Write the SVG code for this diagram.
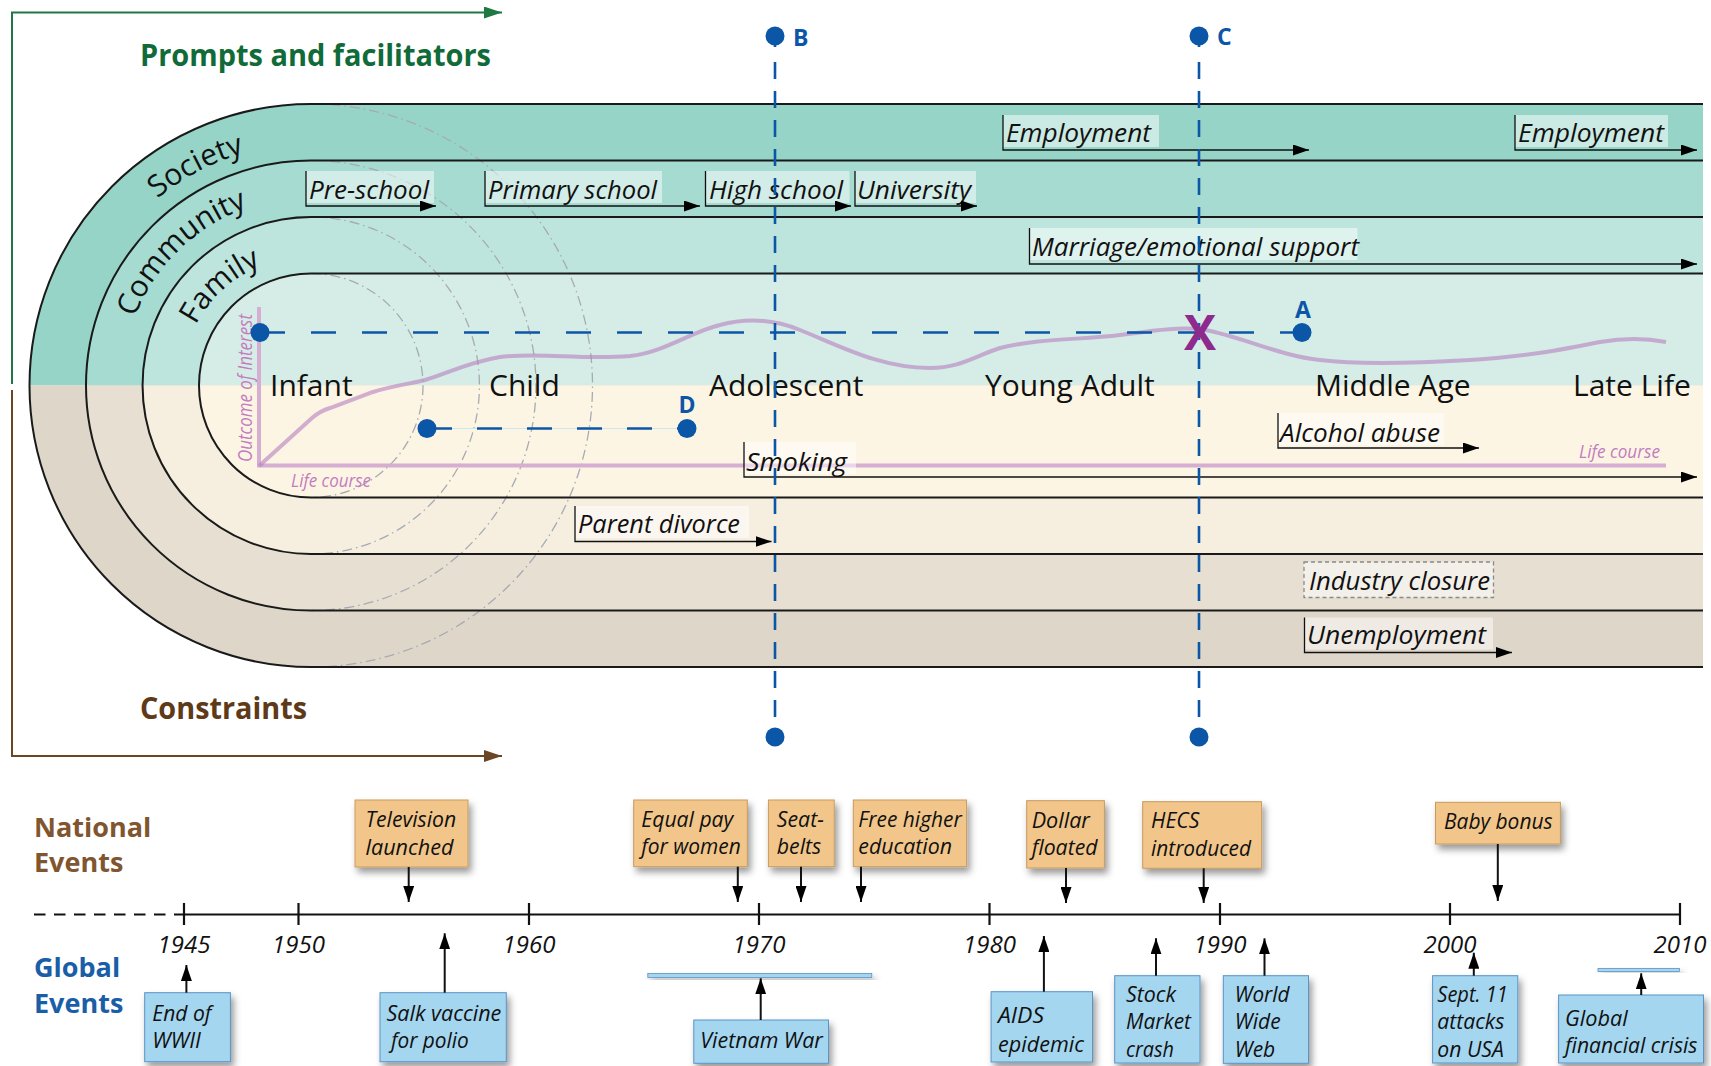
<svg xmlns="http://www.w3.org/2000/svg" width="1711" height="1066" viewBox="0 0 1711 1066">
<defs>
<style>
text{font-family:"Open Sans","Liberation Sans",sans-serif;}
.lbl{font-style:italic;font-size:26px;fill:#111;}
.stage{font-size:30px;fill:#111;}
.band{font-size:30px;fill:#111;}
.ev{font-style:italic;font-size:22px;fill:#111;}
.yr{font-style:italic;font-size:24px;fill:#111;text-anchor:middle;}
.let{font-weight:bold;font-size:23px;fill:#0b56a7;}
.bg{fill:#fff;opacity:.5;}
.br{fill:none;stroke:#111;stroke-width:1.3;marker-end:url(#ah);}
.ring{fill:none;stroke:#1a1a1a;stroke-width:2;}
.ghost{fill:none;stroke:#a6abb3;stroke-width:1.3;stroke-dasharray:10 4 1.5 4;}
.vdash{fill:none;stroke:#0b56a7;stroke-width:2.6;stroke-dasharray:17 12;}
.hdash{fill:none;stroke:#0b56a7;stroke-width:2.6;stroke-dasharray:25 26;}
.dot{fill:#0b56a7;}
.nat{fill:#f2c68a;stroke:#c99a5c;stroke-width:1;filter:url(#sh);}
.glo{fill:#a4d6f0;stroke:#5b93c6;stroke-width:1;filter:url(#sh);}
.tl{fill:none;stroke:#111;stroke-width:2;marker-end:url(#ah);}
.axis{stroke:#111;stroke-width:2.2;fill:none;}
.hd{font-weight:bold;font-size:27px;}
</style>
<marker id="ah" markerUnits="userSpaceOnUse" markerWidth="16" markerHeight="11" refX="16" refY="5.5" orient="auto"><path d="M0,0 L16,5.5 L0,11 Z" fill="#000"/></marker>
<marker id="ahg" markerUnits="userSpaceOnUse" markerWidth="18" markerHeight="12" refX="18" refY="6" orient="auto"><path d="M0,0 L18,6 L0,12 Z" fill="#1d7842"/></marker>
<marker id="ahb" markerUnits="userSpaceOnUse" markerWidth="18" markerHeight="12" refX="18" refY="6" orient="auto"><path d="M0,0 L18,6 L0,12 Z" fill="#6b4524"/></marker>
<filter id="sh" x="-20%" y="-20%" width="150%" height="160%"><feDropShadow dx="3" dy="5" stdDeviation="3.5" flood-color="#000" flood-opacity="0.4"/></filter>
<clipPath id="top"><rect x="0" y="0" width="1711" height="385.5"/></clipPath>
<clipPath id="bot"><rect x="0" y="385.5" width="1711" height="700"/></clipPath>
<path id="arcS" d="M69,385.5 A242,242 0 0 1 553,385.5"/>
<path id="arcC" d="M122,385.5 A189,189 0 0 1 500,385.5"/>
<path id="arcF" d="M181,385.5 A130,130 0 0 1 441,385.5"/>
</defs>

<g id="bands">
<g clip-path="url(#top)">
<path d="M1703,104 H311 A281.5,281.5 0 0 0 311,667 H1703 Z" fill="#95d4c6"/>
<path d="M1703,160.5 H311 A225,225 0 0 0 311,610.5 H1703 Z" fill="#a5dbd1"/>
<path d="M1703,217 H311 A168.5,168.5 0 0 0 311,554 H1703 Z" fill="#bde5dd"/>
<path d="M1703,273.5 H311 A112,112 0 0 0 311,497.5 H1703 Z" fill="#d6ede7"/>
</g>
<g clip-path="url(#bot)">
<path d="M1703,104 H311 A281.5,281.5 0 0 0 311,667 H1703 Z" fill="#ded6c9"/>
<path d="M1703,160.5 H311 A225,225 0 0 0 311,610.5 H1703 Z" fill="#e6dfd2"/>
<path d="M1703,217 H311 A168.5,168.5 0 0 0 311,554 H1703 Z" fill="#f6efe0"/>
<path d="M1703,273.5 H311 A112,112 0 0 0 311,497.5 H1703 Z" fill="#fdf5e4"/>
</g>
<path class="ghost" d="M311,104 A281.5,281.5 0 0 1 311,667"/>
<path class="ghost" d="M311,160.5 A225,225 0 0 1 311,610.5"/>
<path class="ghost" d="M311,217 A168.5,168.5 0 0 1 311,554"/>
<path class="ghost" d="M311,273.5 A112,112 0 0 1 311,497.5"/>
<path class="ring" d="M1703,104 H311 A281.5,281.5 0 0 0 311,667 H1703"/>
<path class="ring" d="M1703,160.5 H311 A225,225 0 0 0 311,610.5 H1703"/>
<path class="ring" d="M1703,217 H311 A168.5,168.5 0 0 0 311,554 H1703"/>
<path class="ring" d="M1703,273.5 H311 A112,112 0 0 0 311,497.5 H1703"/>
<text class="band" text-anchor="middle"><textPath href="#arcS" startOffset="34.6%">Society</textPath></text>
<text class="band" text-anchor="middle" font-size="31"><textPath href="#arcC" startOffset="25.4%">Community</textPath></text>
<text class="band" text-anchor="middle"><textPath href="#arcF" startOffset="26.4%">Family</textPath></text>
</g>

<g id="lifecourse">
<path d="M259,307 V465.5 H1666" fill="none" stroke="#d6aed2" stroke-width="4"/>
<path d="M259,466 L312,418 Q320,411 330,408 L373,392 C395,385 410,384 425,380 C450,372 470,362 500,357 C540,352 580,360 630,356 C665,352 690,332 720,325 C745,318 770,318 800,330 C840,346 880,368 930,368 C960,368 975,356 1000,348 C1040,338 1080,340 1120,335 C1150,331 1180,326 1205,330 C1240,336 1280,356 1320,360 C1360,365 1420,363 1470,360 C1530,356 1560,350 1600,342 C1630,337 1650,339 1666,342" fill="none" stroke="#b57fc0" stroke-opacity="0.6" stroke-width="4"/>
<text transform="translate(252,462) rotate(-90)" font-style="italic" font-size="20" fill="#c47cc0" textLength="148" lengthAdjust="spacingAndGlyphs">Outcome of Interest</text>
<text x="291" y="487" font-style="italic" font-size="19" fill="#c47cc0" textLength="80" lengthAdjust="spacingAndGlyphs">Life course</text>
<text x="1579" y="458" font-style="italic" font-size="19" fill="#c47cc0" textLength="81" lengthAdjust="spacingAndGlyphs">Life course</text>
</g>

<g id="events">
<g id="ev-employment1"><rect class="bg" x="1003" y="115" width="156" height="32"/><text class="lbl" x="1006" y="142" textLength="145" lengthAdjust="spacingAndGlyphs">Employment</text></g>
<g id="ev-employment2"><rect class="bg" x="1515" y="115" width="153" height="32"/><text class="lbl" x="1518" y="142" textLength="146" lengthAdjust="spacingAndGlyphs">Employment</text></g>
<g id="ev-preschool"><rect class="bg" x="306" y="171" width="128" height="32"/><text class="lbl" x="309" y="199" textLength="120" lengthAdjust="spacingAndGlyphs">Pre-school</text></g>
<g id="ev-primary"><rect class="bg" x="485" y="171" width="177" height="32"/><text class="lbl" x="488" y="199" textLength="169" lengthAdjust="spacingAndGlyphs">Primary school</text></g>
<g id="ev-high"><rect class="bg" x="705.5" y="171" width="144" height="32"/><text class="lbl" x="709" y="199" textLength="134" lengthAdjust="spacingAndGlyphs">High school</text></g>
<g id="ev-university"><rect class="bg" x="855" y="171" width="121" height="32"/><text class="lbl" x="857" y="199" textLength="114" lengthAdjust="spacingAndGlyphs">University</text></g>
<g id="ev-marriage"><rect class="bg" x="1029.5" y="228" width="328" height="32"/><text class="lbl" x="1032" y="256" textLength="327" lengthAdjust="spacingAndGlyphs">Marriage/emotional support</text></g>
<g id="ev-alcohol"><rect class="bg" x="1278" y="413" width="166" height="32"/><text class="lbl" x="1280" y="441.5" textLength="160" lengthAdjust="spacingAndGlyphs">Alcohol abuse</text></g>
<g id="ev-smoking"><rect class="bg" x="744" y="442" width="112" height="32"/><text class="lbl" x="746" y="470.5" textLength="101" lengthAdjust="spacingAndGlyphs">Smoking</text></g>
<g id="ev-divorce"><rect class="bg" x="575" y="506" width="174" height="32"/><text class="lbl" x="578" y="533" textLength="162" lengthAdjust="spacingAndGlyphs">Parent divorce</text></g>
<g id="ev-industry"><rect x="1304" y="562" width="189.5" height="35.5" fill="#fff" fill-opacity="0.5" stroke="#8a8a8a" stroke-width="1.3" stroke-dasharray="4 3"/><text class="lbl" x="1309" y="590" textLength="181" lengthAdjust="spacingAndGlyphs">Industry closure</text></g>
<g id="ev-unemployment"><rect class="bg" x="1304.5" y="617.5" width="188.5" height="32"/><text class="lbl" x="1307" y="644" textLength="179" lengthAdjust="spacingAndGlyphs">Unemployment</text></g>
</g>

<g id="connectors">
<path class="br" d="M1003,115 V150 H1309"/>
<path class="br" d="M1515,115 V150 H1697"/>
<path class="br" d="M306,171 V206 H436"/>
<path class="br" d="M485,171 V206 H700"/>
<path class="br" d="M705.5,171 V206 H851"/>
<path class="br" d="M855,171 V206 H977"/>
<path class="br" d="M1029.5,228 V264 H1697"/>
<path class="br" d="M1278,413 V448 H1479"/>
<path class="br" d="M744,442 V477 H1697"/>
<path class="br" d="M575,506 V541.5 H771.5"/>
<path class="br" d="M1304.5,617.5 V652.5 H1512"/>
</g>

<g id="stages">
<text class="stage" x="270" y="396">Infant</text>
<text class="stage" x="489" y="396">Child</text>
<text class="stage" x="709" y="396">Adolescent</text>
<text class="stage" x="985" y="396">Young Adult</text>
<text class="stage" x="1315" y="396">Middle Age</text>
<text class="stage" x="1573" y="396">Late Life</text>
</g>

<g id="markers">
<g id="mark-A">
<path class="hdash" d="M260,332.5 H1302"/>
<circle class="dot" cx="260" cy="332.5" r="9.5"/>
<circle class="dot" cx="1302" cy="332.5" r="9.5"/>
<text class="let" x="1303" y="318" text-anchor="middle">A</text>
</g>
<g id="mark-D">
<path d="M427,428.5 H687" stroke="#cde6ec" stroke-width="1"/>
<path d="M427,428.5 H687" fill="none" stroke="#0b56a7" stroke-width="2.6" stroke-dasharray="25 25"/>
<circle class="dot" cx="427" cy="428.5" r="9.5"/>
<circle class="dot" cx="687" cy="428.5" r="9.5"/>
<text class="let" x="687" y="413" text-anchor="middle">D</text>
</g>
<g id="mark-B">
<path d="M775,36 V47" stroke="#0b56a7" stroke-width="2.6"/>
<path class="vdash" d="M775,62 V727"/>
<circle class="dot" cx="775" cy="36" r="9.5"/>
<circle class="dot" cx="775" cy="737" r="9.5"/>
<text class="let" x="793" y="46">B</text>
</g>
<g id="mark-C">
<path d="M1199,36 V47" stroke="#0b56a7" stroke-width="2.6"/>
<path class="vdash" d="M1199,62 V727"/>
<circle class="dot" cx="1199" cy="36" r="9.5"/>
<circle class="dot" cx="1199" cy="737" r="9.5"/>
<text class="let" x="1217" y="45">C</text>
</g>
<text id="mark-X" x="1200" y="350" text-anchor="middle" font-weight="bold" font-size="48" fill="#8e2a8e">X</text>
</g>

<g id="headings">
<path d="M12,384 V12.5 H502" fill="none" stroke="#1d7842" stroke-width="2" marker-end="url(#ahg)"/>
<path d="M12,390 V756 H502" fill="none" stroke="#6b4524" stroke-width="2" marker-end="url(#ahb)"/>
<text x="140" y="66" font-weight="bold" font-size="30" fill="#106b39" textLength="351" lengthAdjust="spacingAndGlyphs">Prompts and facilitators</text>
<text x="140" y="719" font-weight="bold" font-size="30" fill="#5e3a19" textLength="167" lengthAdjust="spacingAndGlyphs">Constraints</text>
</g>

<g id="timeline">
<path d="M34,914.5 H183" stroke="#111" stroke-width="2.2" stroke-dasharray="11.5 8.5"/>
<path class="axis" d="M183,914.5 H1680"/>
<path class="axis" d="M184,903 V925 M298.5,903 V925 M529,903 V925 M759,903 V925 M989.5,903 V925 M1220,903 V925 M1450,903 V925 M1680,903 V925"/>
<text class="yr" x="184" y="953">1945</text>
<text class="yr" x="298.5" y="953">1950</text>
<text class="yr" x="529" y="953">1960</text>
<text class="yr" x="759" y="953">1970</text>
<text class="yr" x="989.5" y="953">1980</text>
<text class="yr" x="1220" y="953">1990</text>
<text class="yr" x="1450" y="953">2000</text>
<text class="yr" x="1680" y="953">2010</text>
<text class="hd" fill="#80552f" x="34" y="836.7">National</text>
<text class="hd" fill="#80552f" x="34" y="872">Events</text>
<text class="hd" fill="#1a5ea8" x="34" y="977">Global</text>
<text class="hd" fill="#1a5ea8" x="34" y="1013">Events</text>
</g>

<g id="national">
<g id="n-tv"><rect class="nat" x="355" y="800" width="113" height="67"/><text class="ev" x="365.5" y="826.7" textLength="90.7" lengthAdjust="spacingAndGlyphs">Television</text><text class="ev" x="365.5" y="855" textLength="88" lengthAdjust="spacingAndGlyphs">launched</text></g>
<g id="n-equal"><rect class="nat" x="633.7" y="800" width="113.6" height="66.7"/><text class="ev" x="641.3" y="826.7" textLength="92" lengthAdjust="spacingAndGlyphs">Equal pay</text><text class="ev" x="641.3" y="854" textLength="99.5" lengthAdjust="spacingAndGlyphs">for women</text></g>
<g id="n-seat"><rect class="nat" x="768.4" y="800" width="65.8" height="66.7"/><text class="ev" x="776.8" y="826.7" textLength="47" lengthAdjust="spacingAndGlyphs">Seat-</text><text class="ev" x="776.8" y="854" textLength="44.4" lengthAdjust="spacingAndGlyphs">belts</text></g>
<g id="n-free"><rect class="nat" x="853.3" y="800" width="113.3" height="66.7"/><text class="ev" x="858.3" y="826.7" textLength="103.4" lengthAdjust="spacingAndGlyphs">Free higher</text><text class="ev" x="858.3" y="854" textLength="93.7" lengthAdjust="spacingAndGlyphs">education</text></g>
<g id="n-dollar"><rect class="nat" x="1026.7" y="800.7" width="77.7" height="67.3"/><text class="ev" x="1031.7" y="827.7" textLength="58.2" lengthAdjust="spacingAndGlyphs">Dollar</text><text class="ev" x="1031.7" y="855" textLength="65.8" lengthAdjust="spacingAndGlyphs">floated</text></g>
<g id="n-hecs"><rect class="nat" x="1142.7" y="801.7" width="118.9" height="66.6"/><text class="ev" x="1151" y="828" textLength="48.4" lengthAdjust="spacingAndGlyphs">HECS</text><text class="ev" x="1151" y="856" textLength="100" lengthAdjust="spacingAndGlyphs">introduced</text></g>
<g id="n-baby"><rect class="nat" x="1435.5" y="802.3" width="124.9" height="41.7"/><text class="ev" x="1444" y="829" textLength="108.5" lengthAdjust="spacingAndGlyphs">Baby bonus</text></g>
</g>

<g id="global">
<g id="g-wwii"><rect class="glo" x="144.7" y="992.7" width="85.7" height="69"/><text class="ev" x="152.3" y="1020.7" textLength="59" lengthAdjust="spacingAndGlyphs">End of</text><text class="ev" x="152.3" y="1048.3" textLength="48.7" lengthAdjust="spacingAndGlyphs">WWII</text></g>
<g id="g-salk"><rect class="glo" x="380" y="992.7" width="126.3" height="69"/><text class="ev" x="386.5" y="1020.7" textLength="114.8" lengthAdjust="spacingAndGlyphs">Salk vaccine</text><text class="ev" x="391" y="1048.3" textLength="77.8" lengthAdjust="spacingAndGlyphs">for polio</text></g>
<g id="g-vietnam"><rect x="647.8" y="973.5" width="224" height="4" fill="#a4d6f0" stroke="#5b93c6" stroke-width="0.8" filter="url(#sh)"/><rect class="glo" x="693.8" y="1020" width="134.7" height="43.3"/><text class="ev" x="700.3" y="1048.3" textLength="122.4" lengthAdjust="spacingAndGlyphs">Vietnam War</text></g>
<g id="g-aids"><rect class="glo" x="991.1" y="991.7" width="101.4" height="70.3"/><text class="ev" x="998" y="1023.3" textLength="46" lengthAdjust="spacingAndGlyphs">AIDS</text><text class="ev" x="998" y="1051.7" textLength="86" lengthAdjust="spacingAndGlyphs">epidemic</text></g>
<g id="g-stock"><rect class="glo" x="1114.7" y="975.7" width="85.3" height="87.3"/><text class="ev" x="1126" y="1001.7" textLength="50" lengthAdjust="spacingAndGlyphs">Stock</text><text class="ev" x="1126" y="1029.3" textLength="65" lengthAdjust="spacingAndGlyphs">Market</text><text class="ev" x="1126" y="1056.7" textLength="48" lengthAdjust="spacingAndGlyphs">crash</text></g>
<g id="g-www"><rect class="glo" x="1223.3" y="975.7" width="85.2" height="87.6"/><text class="ev" x="1234.8" y="1001.7" textLength="54.7" lengthAdjust="spacingAndGlyphs">World</text><text class="ev" x="1234.8" y="1029.3" textLength="45.8" lengthAdjust="spacingAndGlyphs">Wide</text><text class="ev" x="1234.8" y="1056.7" textLength="40.4" lengthAdjust="spacingAndGlyphs">Web</text></g>
<g id="g-sept"><rect class="glo" x="1432.6" y="975.7" width="85.2" height="87.3"/><text class="ev" x="1437.3" y="1001.7" textLength="70.5" lengthAdjust="spacingAndGlyphs">Sept. 11</text><text class="ev" x="1437.3" y="1029.3" textLength="67" lengthAdjust="spacingAndGlyphs">attacks</text><text class="ev" x="1437.3" y="1056.7" textLength="66.5" lengthAdjust="spacingAndGlyphs">on USA</text></g>
<g id="g-gfc"><rect x="1598" y="968.5" width="81.5" height="3" fill="#a4d6f0" stroke="#5b93c6" stroke-width="0.8" filter="url(#sh)"/><rect class="glo" x="1558.6" y="995" width="144.9" height="68"/><text class="ev" x="1565" y="1026" textLength="62.6" lengthAdjust="spacingAndGlyphs">Global</text><text class="ev" x="1565" y="1053.3" textLength="132.4" lengthAdjust="spacingAndGlyphs">financial crisis</text></g>
</g>

<g id="timeline-connectors">
<path class="tl" d="M408.7,867 V902"/>
<path class="tl" d="M737.8,866.7 V902"/>
<path class="tl" d="M801,866.7 V902"/>
<path class="tl" d="M861,866.7 V902"/>
<path class="tl" d="M1066,868 V903"/>
<path class="tl" d="M1203.7,868.3 V903"/>
<path class="tl" d="M1497.8,844 V901"/>
<path class="tl" d="M186.4,992.7 V965"/>
<path class="tl" d="M444.7,992.7 V933.3"/>
<path class="tl" d="M760.7,1020 V978.3"/>
<path class="tl" d="M1043.9,991.7 V936"/>
<path class="tl" d="M1156,975.7 V938.3"/>
<path class="tl" d="M1264.5,975.7 V938.3"/>
<path class="tl" d="M1473.8,975.7 V952.7"/>
<path class="tl" d="M1641.2,995 V973.3"/>
</g>
</svg>
